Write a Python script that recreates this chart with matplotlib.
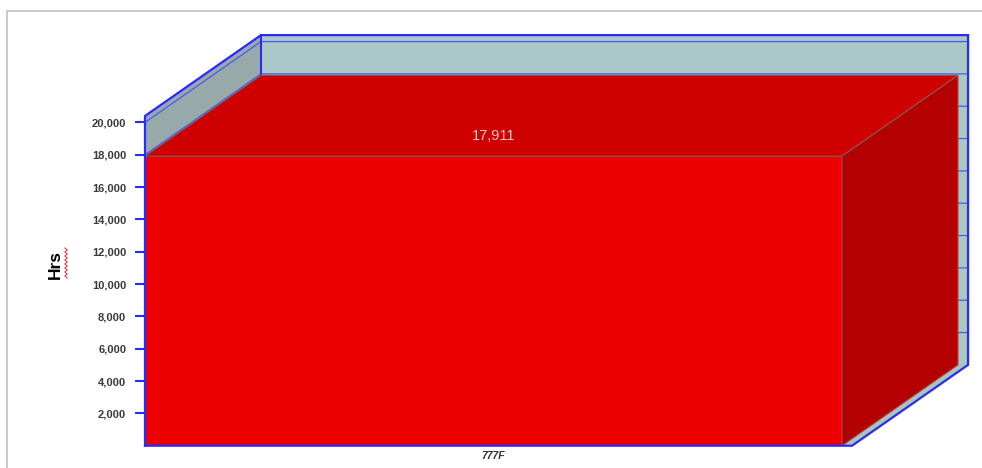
import numpy as np
import matplotlib
matplotlib.use("Agg")
import matplotlib.pyplot as plt
from matplotlib.patches import Polygon, Rectangle
from matplotlib.lines import Line2D

plt.rcParams['font.family'] = ['Liberation Sans', 'DejaVu Sans']

# data
categories = ["777F"]
hours = [17911]
y_ticks = [2000, 4000, 6000, 8000, 10000, 12000, 14000, 16000, 18000, 20000]

# 3-D box geometry (data units)
DEPTH_X = 0.1664
DEPTH_Y = 5000
FLOOR_EXT = 0.0144
WALL_TOP = 20400
HALF_W = 0.5

W, H = 982, 468
fig = plt.figure(figsize=(W / 100, H / 100), dpi=100)
fig.patch.set_facecolor("white")

# thin grey frame around the chart area
fig.add_artist(Rectangle((7 / W, -0.1), 1.2, (H - 11) / H + 0.1,
                         transform=fig.transFigure, fill=False,
                         edgecolor="#c0c0c0", lw=1.2))

x_lo = -HALF_W
x_hi = HALF_W + FLOOR_EXT + DEPTH_X
ax = fig.add_axes([145 / W, (H - 445.7) / H, (x_hi - x_lo) * 697 / W, 410.6 / H])
ax.set_xlim(x_lo, x_hi)
ax.set_ylim(0, WALL_TOP + DEPTH_Y)
ax.patch.set_alpha(0)
for s in ax.spines.values():
    s.set_visible(False)

blue = "#2a2aff"
grid_blue = "#4a5af0"
xr = HALF_W + FLOOR_EXT  # front-right corner of floor

# left wall
ax.add_patch(Polygon([(x_lo, 0), (x_lo + DEPTH_X, DEPTH_Y),
                      (x_lo + DEPTH_X, WALL_TOP + DEPTH_Y), (x_lo, WALL_TOP)],
                     closed=True, facecolor="#97aaa9", edgecolor="none",
                     zorder=1, clip_on=False))
# back wall
ax.add_patch(Polygon([(x_lo + DEPTH_X, DEPTH_Y), (xr + DEPTH_X, DEPTH_Y),
                      (xr + DEPTH_X, WALL_TOP + DEPTH_Y),
                      (x_lo + DEPTH_X, WALL_TOP + DEPTH_Y)],
                     closed=True, facecolor="#aac8c8", edgecolor="none",
                     zorder=1, clip_on=False))
# floor
ax.add_patch(Polygon([(x_lo, 0), (xr, 0), (xr + DEPTH_X, DEPTH_Y),
                      (x_lo + DEPTH_X, DEPTH_Y)],
                     closed=True, facecolor="#a8c4c4", edgecolor="none",
                     zorder=1, clip_on=False))

# gridlines on the walls
for v in y_ticks:
    ax.plot([x_lo, x_lo + DEPTH_X, xr + DEPTH_X],
            [v, v + DEPTH_Y, v + DEPTH_Y],
            color=grid_blue, lw=0.9, zorder=2, clip_on=False)
# back corner
ax.plot([x_lo + DEPTH_X, x_lo + DEPTH_X], [DEPTH_Y, WALL_TOP + DEPTH_Y],
        color=blue, lw=1.5, zorder=2, clip_on=False)

# bar: front face, top and side
xpos = np.arange(len(categories))
ax.bar(xpos, hours, width=2 * HALF_W, color="#ee0000",
       edgecolor="#8a5555", lw=0.8, zorder=3)
for x, v in zip(xpos, hours):
    ax.add_patch(Polygon([(x - HALF_W, v), (x + HALF_W, v),
                          (x + HALF_W + DEPTH_X, v + DEPTH_Y),
                          (x - HALF_W + DEPTH_X, v + DEPTH_Y)],
                         closed=True, facecolor="#cf0000",
                         edgecolor="#8a5555", lw=0.8, zorder=3, clip_on=False))
    ax.add_patch(Polygon([(x + HALF_W, 0), (x + HALF_W + DEPTH_X, DEPTH_Y),
                          (x + HALF_W + DEPTH_X, v + DEPTH_Y), (x + HALF_W, v)],
                         closed=True, facecolor="#b40000",
                         edgecolor="#8a5555", lw=0.8, zorder=3, clip_on=False))
    ax.annotate(f"{v:,}", xy=(x, v), xytext=(0, 14.5), textcoords="offset points",
                ha="center", va="center", fontsize=10.5, color="#f6c4c4")

# outer blue outline of the box
ax.plot([x_lo, x_lo, x_lo + DEPTH_X, xr + DEPTH_X, xr + DEPTH_X, xr, x_lo],
        [0, WALL_TOP, WALL_TOP + DEPTH_Y, WALL_TOP + DEPTH_Y, DEPTH_Y, 0, 0],
        color=blue, lw=1.6, zorder=5, clip_on=False, solid_joinstyle="miter")

# axes ticks
ax.set_yticks(y_ticks)
ax.set_yticklabels([f"{t:,}" for t in y_ticks], fontsize=8,
                   fontweight="bold", color="#3a3a3a")
ax.tick_params(axis="y", direction="out", length=7.5, width=1.5,
               color=blue, pad=6)
ax.set_xticks(xpos)
ax.set_xticklabels(categories, fontsize=7.5, fontweight="bold",
                   fontstyle="italic", color="#333333")
ax.tick_params(axis="x", length=0, pad=4)

ax.set_ylabel("Hrs", fontsize=12.5, fontweight="bold", color="black",
              va="center")
ax.yaxis.set_label_coords(-0.109, 0.4425)

# red wavy underline beside the label
yy = np.linspace(248, 278, 16)
xx = 66 + np.where(np.arange(16) % 2 == 0, -1.2, 1.2)
fig.add_artist(Line2D(xx / W, 1 - yy / H, transform=fig.transFigure,
                      color="#e04040", lw=0.8))

fig.savefig("out.png", dpi=100)
